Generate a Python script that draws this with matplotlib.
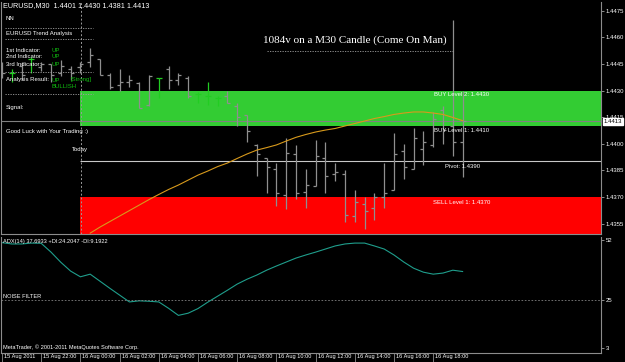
import numpy as np
import matplotlib.pyplot as plt
from matplotlib.patches import Rectangle
import matplotlib.transforms as mtransforms

plt.rcParams['font.family'] = ['Liberation Sans', 'DejaVu Sans']

# EURUSD M30 bars, 15 Aug 20:00 .. 16 Aug 19:30
opens = [1.4444, 1.4440, 1.4444, 1.4448, 1.4443, 1.4445, 1.4440, 1.4442, 1.4443, 1.4446,
         1.4448, 1.4439, 1.4433, 1.4435, 1.4434, 1.4422, 1.4437, 1.4442, 1.4436, 1.4437,
         1.4428, 1.4427, 1.4426, 1.4427, 1.4421, 1.4416, 1.4399, 1.4392, 1.4386, 1.4371,
         1.4394, 1.4373, 1.4376, 1.4392, 1.4383, 1.4383, 1.4359, 1.4366, 1.4364, 1.4370,
         1.4374, 1.4396, 1.4386, 1.4397, 1.4399, 1.4419, 1.4410, 1.4401]
highs = [1.4446, 1.4442, 1.4446, 1.4449, 1.4446, 1.4445, 1.4447, 1.4444, 1.4446, 1.4454,
         1.4448, 1.4440, 1.4442, 1.4439, 1.4435, 1.4439, 1.4437, 1.4444, 1.4440, 1.4438,
         1.4429, 1.4435, 1.4427, 1.4430, 1.4423, 1.4416, 1.4400, 1.4392, 1.4389, 1.4403,
         1.4399, 1.4386, 1.4402, 1.4401, 1.4389, 1.4385, 1.4374, 1.4370, 1.4372, 1.4389,
         1.4406, 1.4400, 1.4409, 1.4407, 1.4418, 1.4421, 1.4470, 1.4430]
lows = [1.4437, 1.4435, 1.4436, 1.4440, 1.4441, 1.4435, 1.4438, 1.4436, 1.4440, 1.4443,
        1.4439, 1.4431, 1.4430, 1.4432, 1.4420, 1.4421, 1.4426, 1.4431, 1.4433, 1.4426,
        1.4423, 1.4422, 1.4421, 1.4423, 1.4410, 1.4401, 1.4382, 1.4372, 1.4365, 1.4363,
        1.4369, 1.4364, 1.4376, 1.4372, 1.4379, 1.4356, 1.4356, 1.4352, 1.4357, 1.4364,
        1.4374, 1.4380, 1.4386, 1.4388, 1.4398, 1.4400, 1.4393, 1.4381]
closes = [1.4440, 1.4440, 1.4439, 1.4448, 1.4445, 1.4439, 1.4444, 1.4440, 1.4445, 1.4450,
          1.4439, 1.4432, 1.4435, 1.4436, 1.4420, 1.4438, 1.4437, 1.4436, 1.4439, 1.4427,
          1.4428, 1.4427, 1.4426, 1.4423, 1.4415, 1.4407, 1.4394, 1.4387, 1.4372, 1.4395,
          1.4372, 1.4377, 1.4393, 1.4382, 1.4384, 1.4360, 1.4367, 1.4362, 1.4370, 1.4372,
          1.4394, 1.4387, 1.4403, 1.4401, 1.4414, 1.4408, 1.4401, 1.4413]

# moving average, visible from bar 9 on
ma_first = 9
ma_vals = [1.43496, 1.43530, 1.43561, 1.43592, 1.43623, 1.43654, 1.43685, 1.43714,
           1.43742, 1.43767, 1.43795, 1.43823, 1.43846, 1.43871, 1.43891, 1.43917,
           1.43942, 1.43964, 1.43978, 1.43993, 1.44015, 1.44036, 1.44052, 1.44066,
           1.44077, 1.44086, 1.44100, 1.44114, 1.44128, 1.44142, 1.44153, 1.44165,
           1.44173, 1.44179, 1.44179, 1.44173, 1.44165, 1.44148, 1.44130]

adx_vals = [50.8, 50.2, 50.2, 50.6, 50.5, 46.5, 41.9, 37.9, 35.3, 36.5,
            33.3, 30.1, 27.0, 23.9, 24.4, 24.2, 23.9, 21.0, 17.8, 18.8,
            20.9, 23.8, 26.5, 29.2, 32.0, 34.2, 36.1, 38.3, 40.2, 42.0,
            43.8, 45.2, 46.5, 47.9, 49.3, 50.2, 50.6, 50.6, 49.3, 47.9,
            45.2, 42.0, 39.2, 37.4, 36.5, 37.0, 38.3, 37.7]

time_labels = ['15 Aug 2011', '15 Aug 22:00', '16 Aug 00:00', '16 Aug 02:00',
               '16 Aug 04:00', '16 Aug 06:00', '16 Aug 08:00', '16 Aug 10:00',
               '16 Aug 12:00', '16 Aug 14:00', '16 Aug 16:00', '16 Aug 18:00']
time_bars = [0, 4, 8, 12, 16, 20, 24, 28, 32, 36, 40, 44]
price_ticks = [1.4475, 1.4460, 1.4445, 1.4430, 1.4415, 1.4400, 1.4385, 1.4370, 1.4355]
adx_ticks = [52, 25, 3]

today_bar = 8
buy2, buy1, pivot, sell1, sell_floor = 1.4430, 1.4410, 1.4390, 1.4370, 1.4350
bid = 1.4413
noise_level = 25

W, H = 625, 362
BG = '#000000'
GRID = '#8c8c8c'
BAR = '#8f8f8f'
GREEN_TXT = '#10c010'

fig = plt.figure(figsize=(W / 100, H / 100), dpi=100, facecolor=BG)
ax = fig.add_axes([1 / W, 1 - 234 / H, 600 / W, 232 / H], facecolor=BG)
ax2 = fig.add_axes([1 / W, 1 - 353 / H, 600 / W, 116 / H], facecolor=BG)

xl = (-1 / 9.8, 599 / 9.8)
for a in (ax, ax2):
    a.set_xlim(*xl)
    for s in a.spines.values():
        s.set_color(GRID)
        s.set_linewidth(0.8)
    a.spines['top'].set_visible(False)
    a.yaxis.tick_right()
    a.tick_params(axis='y', colors=GRID, labelcolor='white', length=2, width=0.7,
                  pad=1.5, labelsize=4.3)
ax.set_ylim(1.43491, 1.44799)
ax2.set_ylim(0.73, 53.36)
ax.set_xticks([])

# zones
ax.add_patch(Rectangle((today_bar, buy1), 80, buy2 - buy1, color='#33cc33', lw=0, zorder=1))
ax.add_patch(Rectangle((today_bar, sell_floor - 0.001), 80, sell1 - sell_floor + 0.001,
                       color='#ff0000', lw=0, zorder=1))
ax.hlines(pivot, today_bar, 80, color='#c8c8c8', lw=0.8, zorder=2)
ax.axhline(bid, color='#808080', lw=0.8, zorder=2)
ax.axvline(today_bar + 0.03, color='#9a9a9a', lw=0.7, ls=(0, (2, 2)), zorder=2)

# bars
idx = np.arange(len(opens))
o, h, l, c = map(np.array, (opens, highs, lows, closes))
cols = np.where(np.isclose(o, c), '#22cc22', BAR)
ax.vlines(idx, l, h, colors=cols, lw=0.9, zorder=3)
ax.hlines(o, idx - 0.3, idx, colors=cols, lw=0.9, zorder=3)
ax.hlines(c, idx, idx + 0.3, colors=cols, lw=0.9, zorder=3)

ma_x = np.arange(ma_first, ma_first + len(ma_vals))
ax.plot(ma_x, ma_vals, color='#d89a1c', lw=0.8, zorder=4)

ax.set_yticks(price_ticks)
ax.set_yticklabels(['%.4f' % p for p in price_ticks])
ax.text(1.004, bid - 0.00003, '%.4f' % bid, transform=ax.get_yaxis_transform(),
        fontsize=4.3, color='black', va='center', ha='left', zorder=10,
        bbox=dict(boxstyle='square,pad=0.15', fc='white', ec='white'), clip_on=False)

# indicator panel
ax2.plot(idx, adx_vals, color='#1f9e8c', lw=0.8)
ax2.axhline(noise_level, color='#808080', lw=0.6, ls=(0, (2, 2)))
ax2.set_yticks(adx_ticks)
ax2.set_yticklabels([str(v) for v in adx_ticks])
ax2.set_xticks(time_bars)
ax2.set_xticklabels(time_labels)
ax2.tick_params(axis='x', colors=GRID, labelcolor='white', length=7, width=0.6,
                pad=-6.5, labelsize=4.1)
off = mtransforms.ScaledTranslation(0.02, 0, fig.dpi_scale_trans)
for lbl in ax2.get_xticklabels():
    lbl.set_horizontalalignment('left')
    lbl.set_transform(lbl.get_transform() + off)


def ftext(x, y, s, **kw):
    kw.setdefault('color', 'white')
    kw.setdefault('fontsize', 4.3)
    fig.text(x / W, 1 - y / H, s, va='center', ha='left', **kw)


def fdots(x0, x1, y, color='#a0a0a0'):
    fig.add_artist(plt.Line2D([x0 / W, x1 / W], [1 - y / H, 1 - y / H], color=color,
                              lw=0.6, ls=(0, (1.5, 1.5))))


ftext(3, 6, 'EURUSD,M30  1.4401 1.4430 1.4381 1.4413', fontsize=5.2)
ftext(6, 19, 'NN')
fdots(5, 93, 27.7)
ftext(6, 34, 'EURUSD Trend Analysis')
fdots(5, 93, 39.3)
for yy, name in [(50, '1st Indicator:'), (57, '2nd Indicator:'), (64, '3rd Indicator:')]:
    ftext(6, yy, name)
    ftext(51, yy, 'UP', color=GREEN_TXT)
fdots(5, 93, 71.7)
ftext(6, 80, 'Analysis Result:')
ftext(51, 80, 'UP', color=GREEN_TXT)
ftext(71, 80, '[Strong]', color=GREEN_TXT)
ftext(51, 87, 'BULLISH', color=GREEN_TXT)
fdots(5, 93, 94.3)
ftext(6, 108, 'Signal:')
ftext(6, 131, 'Good Luck with Your Trading :)')
ftext(72, 149, 'Today')

ftext(263, 40.5, '1084v on a M30 Candle (Come On Man)', fontsize=8,
      family='Liberation Serif')
fdots(267, 453, 51)

ftext(434, 95, 'BUY Level 2: %.4f' % buy2)
ftext(434, 131, 'BUY Level 1: %.4f' % buy1)
ftext(445, 166, 'Pivot: %.4f' % pivot)
ftext(433, 202, 'SELL Level 1: %.4f' % sell1)

ftext(3, 241.5, 'ADX(14) 37.6933 +DI:24.2047 -DI:9.1922', fontsize=4.1)
ftext(3, 296.5, 'NOISE FILTER', fontsize=4.1)
ftext(3, 347, 'MetaTrader, \u00a9 2001-2011 MetaQuotes Software Corp.', fontsize=4.1)

fig.savefig('out.png', dpi=100, facecolor=BG)
